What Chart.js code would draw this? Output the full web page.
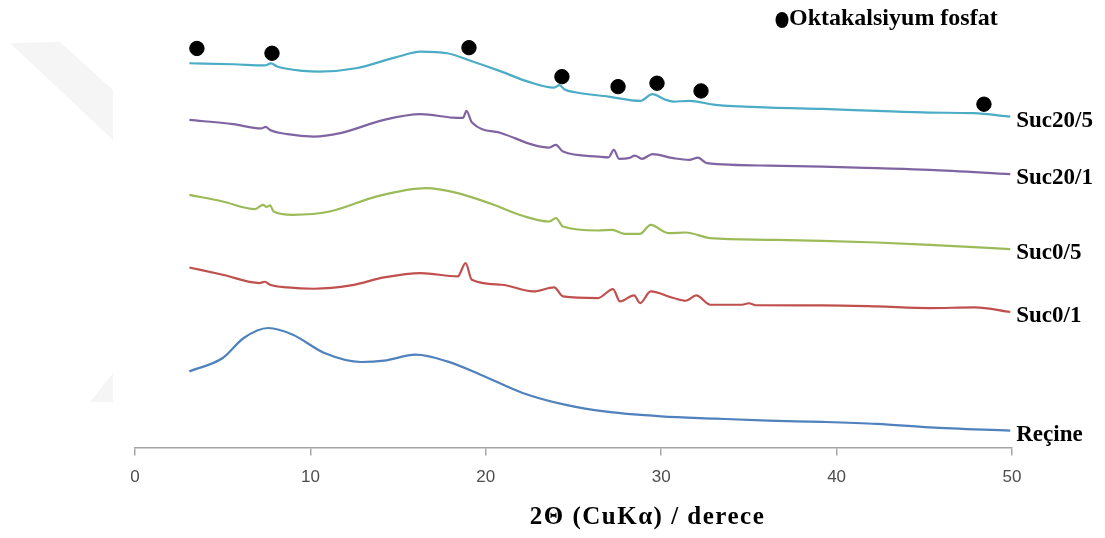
<!DOCTYPE html>
<html>
<head>
<meta charset="utf-8">
<script src="https://cdn.jsdelivr.net/npm/chart.js@4.4.1/dist/chart.umd.min.js"></script>
<style>
    body { margin: 0; background: #ffffff; }
    #wrap { width: 1105px; height: 538px; }
</style>
</head>
<body>
<div id="wrap"><canvas id="xrdChart" width="1105" height="538"></canvas></div>
<script>
// 2-theta positions (degrees) and intensities (arbitrary, stacked)
const suc205Angle = [3.1, 5.6, 7.4, 7.75, 8.1, 9.6, 10.5, 12.6, 14.8, 16.3, 17.8, 19.0, 20.9, 22.4, 23.9, 24.2, 24.5, 25.1, 27.0, 28.8, 29.5, 30.2, 30.7, 31.6, 33.1, 36.2, 39.2, 42.3, 45.3, 47.8, 49.9];
const suc205Int = [384.7, 383.7, 382.5, 384.5, 381.5, 377, 376.3, 379.7, 390.3, 396.3, 394.7, 388, 376.3, 366.3, 360.3, 362.8, 358.5, 355.7, 351.3, 347, 353.7, 348.5, 346.3, 347, 343, 340.3, 339, 337, 335.3, 334.7, 331.3];

const suc201Angle = [3.1, 5.6, 7.2, 7.45, 7.7, 8.7, 10.2, 11.7, 14.2, 16.3, 18.1, 18.7, 18.9, 19.2, 20.9, 22.7, 23.6, 24.0, 24.4, 26.4, 27.0, 27.3, 27.6, 28.2, 28.5, 28.9, 29.5, 30.7, 31.6, 32.1, 32.6, 36.1, 39.2, 42.3, 45.3, 49.9];
const suc201Int = [328, 323.7, 319.5, 321, 318, 313.7, 311.3, 314.7, 328, 333.7, 330.3, 330, 337, 325.7, 314.7, 303, 300.3, 303, 296.3, 291.3, 290.5, 298, 289, 290, 292.3, 289, 293.7, 289.7, 288, 290.3, 284.7, 282.3, 281.3, 279.7, 278, 273.7];

const suc05Angle = [3.1, 5.0, 6.85, 7.3, 7.5, 7.7, 7.9, 9.0, 11.1, 13.9, 16.6, 18.4, 20.3, 22.1, 23.6, 24.0, 24.4, 26.4, 27.2, 27.9, 28.8, 29.4, 30.4, 31.4, 32.8, 36.1, 39.2, 42.3, 45.3, 49.9];
const suc05Int = [253, 246.3, 238.7, 243, 241, 242.5, 236.3, 233, 236.3, 252, 259.7, 254.7, 244, 232, 226.3, 229.7, 221.3, 217.3, 218, 214, 214, 223, 214.7, 215.3, 209.7, 208, 207, 205.3, 203, 198.7];

const suc01Angle = [3.1, 5.0, 7.1, 7.4, 7.7, 8.7, 10.2, 12.3, 14.2, 16.3, 18.4, 18.85, 19.2, 20.9, 22.7, 23.9, 24.4, 26.4, 27.25, 27.65, 28.45, 28.8, 29.4, 30.7, 31.4, 32.0, 32.8, 34.6, 35.0, 35.4, 39.2, 42.3, 45.3, 47.9, 49.9];
const suc01Int = [180.3, 173, 164.7, 166, 163, 160.3, 159, 162.3, 170.3, 174.7, 171.3, 184.7, 168, 163, 156.3, 160.3, 151.3, 149.7, 158.7, 146.3, 152.3, 144.7, 156.3, 149.7, 147, 152.3, 143, 143, 144.5, 142.5, 142.3, 141.3, 139.7, 140.3, 135.7];

const resinAngle = [3.1, 5.0, 6.2, 7.6, 9.0, 10.8, 12.9, 14.2, 16.0, 17.8, 19.7, 22.1, 24.5, 27.0, 30.0, 33.1, 36.1, 39.2, 42.3, 45.3, 49.9];
const resinInt = [76.3, 89.7, 109.7, 119.7, 113, 94.7, 85.7, 87, 93, 86.3, 73, 54.7, 43, 35.7, 31.3, 29, 27, 25.7, 23.7, 20.3, 17];

// octacalcium phosphate reflections marked above the Suc20/5 pattern
const ocpAngle = [3.53, 7.81, 19.04, 24.34, 27.54, 29.76, 32.27, 48.40];
const ocpInt = [399.5, 394.7, 400.3, 371.3, 361.3, 364.7, 357, 343.7];

const seriesNames = ['Suc20/5', 'Suc20/1', 'Suc0/5', 'Suc0/1', 'Reçine'];
const seriesColors = ['#4bacc6', '#8064a2', '#9bbb59', '#c0504d', '#4f81bd'];
const xTicks = [0, 10, 20, 30, 40, 50];

const toPoints = (xs, ys) => xs.map((x, i) => ({ x: x, y: ys[i] }));
const patterns = [
    toPoints(suc205Angle, suc205Int),
    toPoints(suc201Angle, suc201Int),
    toPoints(suc05Angle, suc05Int),
    toPoints(suc01Angle, suc01Int),
    toPoints(resinAngle, resinInt)
];

const datasets = [{
    label: 'Oktakalsiyum fosfat',
    data: toPoints(ocpAngle, ocpInt),
    showLine: false,
    pointRadius: 7.2,
    pointHoverRadius: 7.2,
    pointBackgroundColor: '#000000',
    pointBorderColor: '#000000',
    order: 0
}];
patterns.forEach((pts, i) => {
    datasets.push({
        label: seriesNames[i],
        data: pts,
        borderColor: seriesColors[i],
        borderWidth: 2.2,
        pointRadius: 0,
        cubicInterpolationMode: 'monotone',
        fill: false,
        order: 1
    });
});

// faint watermark band at the left edge of the original figure
const watermark = {
    id: 'watermark',
    beforeDraw(chart) {
        const ctx = chart.ctx;
        ctx.save();
        ctx.fillStyle = '#f5f5f5';
        ctx.beginPath();
        ctx.moveTo(10, 43); ctx.lineTo(60, 42); ctx.lineTo(113, 90); ctx.lineTo(113, 140);
        ctx.closePath();
        ctx.fill();
        ctx.beginPath();
        ctx.moveTo(90, 402); ctx.lineTo(113, 373); ctx.lineTo(113, 402);
        ctx.closePath();
        ctx.fill();
        ctx.restore();
    }
};

// series names at the end of each trace, legend and axis title
const annotations = {
    id: 'annotations',
    afterDatasetsDraw(chart) {
        const ctx = chart.ctx;
        const area = chart.chartArea;
        ctx.save();
        ctx.fillStyle = '#000000';
        ctx.font = 'bold 23px "Liberation Serif", "Times New Roman", serif';
        ctx.textBaseline = 'middle';
        ctx.textAlign = 'left';
        for (let i = 1; i < chart.data.datasets.length; i++) {
            const pts = chart.getDatasetMeta(i).data;
            const last = pts[pts.length - 1];
            ctx.fillText(chart.data.datasets[i].label, last.x + 6, last.y + 4);
        }

        // legend
        ctx.beginPath();
        ctx.ellipse(782, 20, 6.5, 8, 0, 0, Math.PI * 2);
        ctx.fill();
        ctx.font = 'bold 24px "Liberation Serif", "Times New Roman", serif';
        ctx.fillText('Oktakalsiyum fosfat', 789, 19);

        // x axis title
        ctx.font = 'bold 25px "Liberation Serif", "Times New Roman", serif';
        ctx.letterSpacing = '1.5px';
        ctx.textAlign = 'center';
        ctx.fillText('2Θ (CuKα) / derece', (area.left + area.right) / 2 + 74, 518);
        ctx.restore();
    }
};

new Chart(document.getElementById('xrdChart'), {
    type: 'line',
    data: { datasets: datasets },
    options: {
        responsive: false,
        animation: false,
        layout: { padding: { left: 135, right: 93, top: 10, bottom: 38 } },
        plugins: {
            legend: { display: false },
            tooltip: { enabled: false }
        },
        scales: {
            x: {
                type: 'linear',
                min: 0,
                max: 50,
                afterBuildTicks: axis => { axis.ticks = xTicks.map(v => ({ value: v })); },
                ticks: {
                    color: '#4d4d4d',
                    padding: 12,
                    font: { family: '"Liberation Sans Narrow", "Liberation Sans", Arial, sans-serif', size: 17 }
                },
                grid: { drawOnChartArea: false, drawTicks: true, tickLength: 8, color: '#a6a6a6', lineWidth: 1.5 },
                border: { color: '#a6a6a6', width: 1.5 }
            },
            y: {
                display: false,
                min: 0,
                max: 438
            }
        }
    },
    plugins: [watermark, annotations]
});
</script>
</body>
</html>
